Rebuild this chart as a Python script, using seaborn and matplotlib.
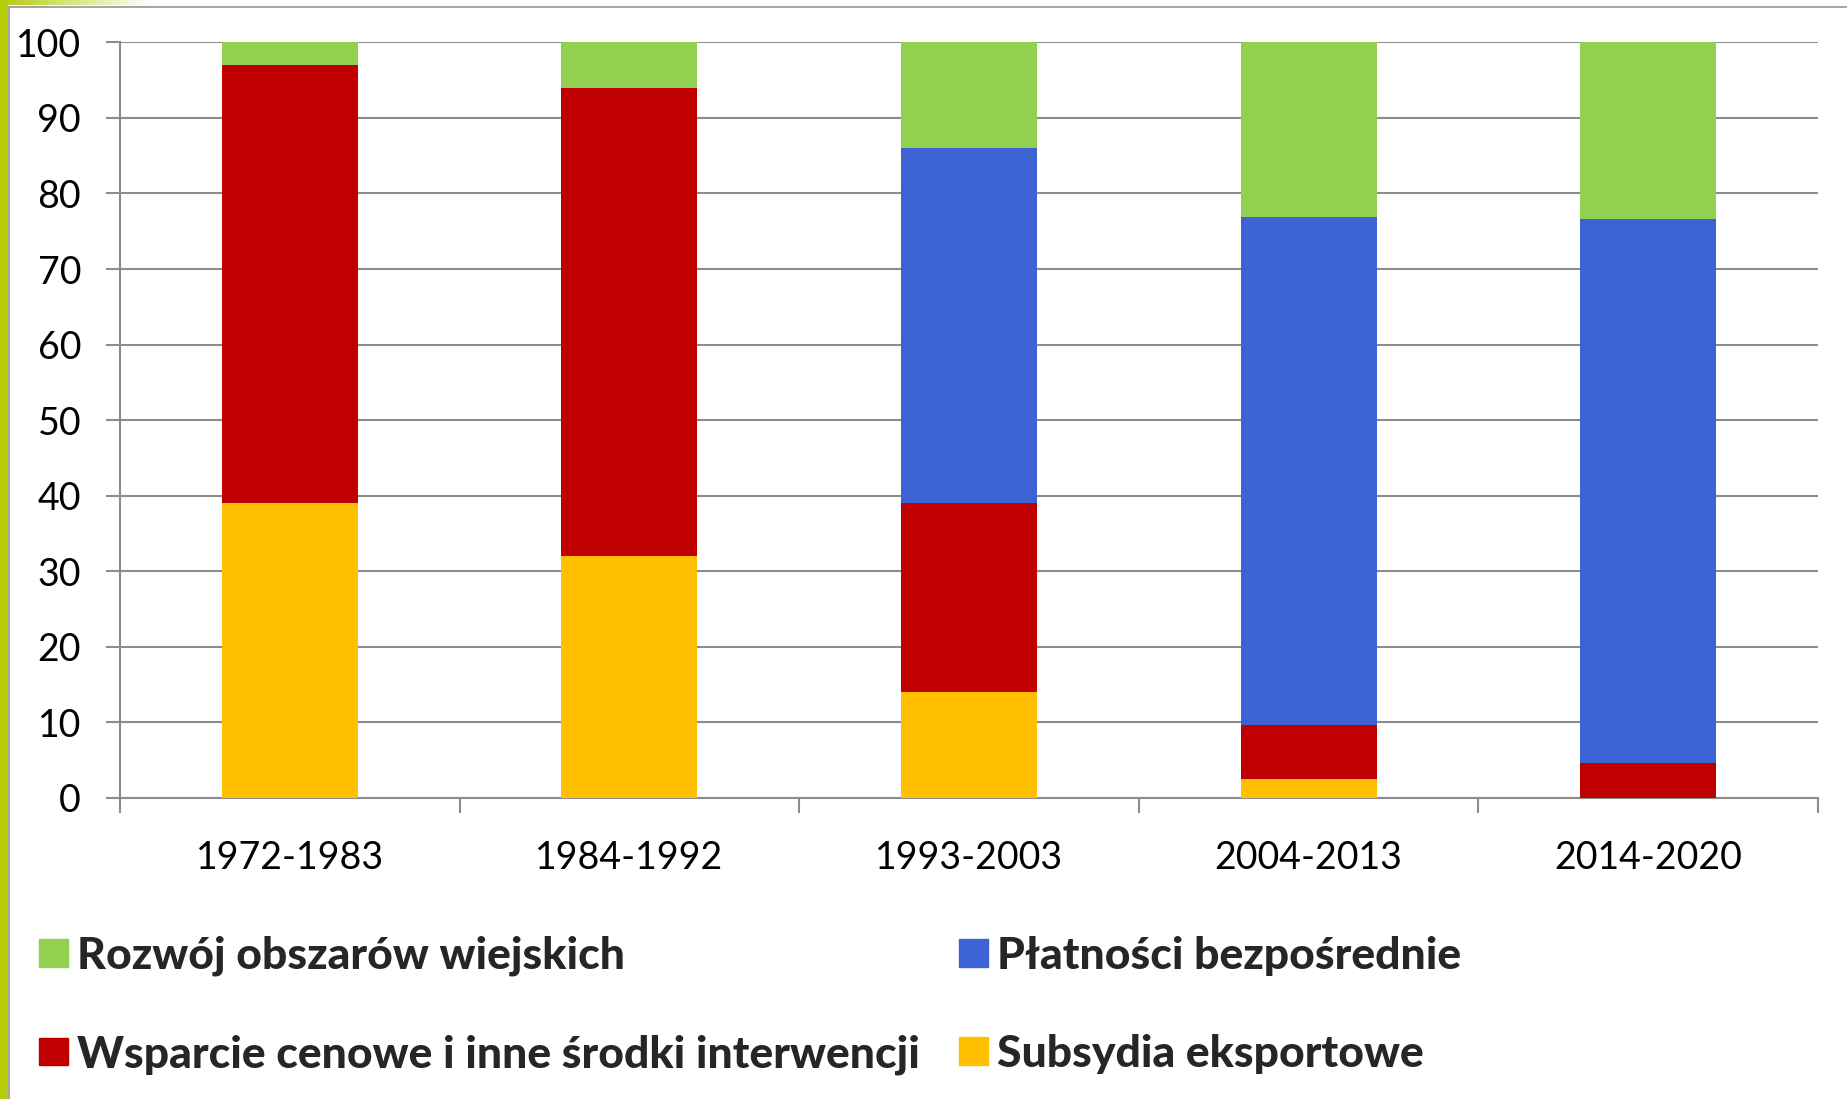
import numpy as np
import matplotlib
matplotlib.use("Agg")
import matplotlib.pyplot as plt
from matplotlib.patches import Patch, Rectangle
from matplotlib.lines import Line2D
from matplotlib.colors import LinearSegmentedColormap
import seaborn as sns

periods = ["1972-1983", "1984-1992", "1993-2003", "2004-2013", "2014-2020"]
subsydia = [39, 32, 14, 2.5, 0]
wsparcie = [58, 62, 25, 7.2, 4.6]
platnosci = [0, 0, 47, 67.2, 72]
rozwoj = [3, 6, 14, 23.1, 23.4]
yticks = [0, 10, 20, 30, 40, 50, 60, 70, 80, 90, 100]

labels = {
    "rozwoj": "Rozwój obszarów wiejskich",
    "platnosci": "Płatności bezpośrednie",
    "wsparcie": "Wsparcie cenowe i inne środki interwencji",
    "subsydia": "Subsydia eksportowe",
}
colors = {"rozwoj": "#92D050", "platnosci": "#3C62D4",
          "wsparcie": "#C00000", "subsydia": "#FFC000"}

sns.set_theme(style="white")
plt.rcParams["font.family"] = ["Lato", "DejaVu Sans"]

W, H = 1847, 1099
fig = plt.figure(figsize=(W / 100, H / 100), dpi=100)

# decorative frame
bg = fig.add_axes([0, 0, 1, 1], zorder=-10)
bg.set_xlim(0, W)
bg.set_ylim(H, 0)
bg.axis("off")
grad = np.linspace(0, 1, 256).reshape(1, -1)
cm = LinearSegmentedColormap.from_list("g", ["#B5CC0A", "#FFFFFF"])
bg.imshow(grad, cmap=cm, extent=[0, 150, 5, 0], aspect="auto")
bg.add_patch(Rectangle((0, 0), 8, H, color="#B5CC0A", lw=0))
bg.add_line(Line2D([9, 9], [7, H], color="#A6A6A6", lw=1.5))
bg.add_line(Line2D([9, W], [7, 7], color="#A6A6A6", lw=1.5))

ax = fig.add_axes([120 / W, 1 - 798 / H, (1818 - 120) / W, (798 - 42.3) / H])

bottom = np.zeros(len(periods))
for key, vals in [("subsydia", subsydia), ("wsparcie", wsparcie),
                  ("platnosci", platnosci), ("rozwoj", rozwoj)]:
    sns.barplot(x=periods, y=vals, bottom=bottom, color=colors[key],
                saturation=1, width=0.4, ax=ax, zorder=3, linewidth=0)
    bottom = bottom + np.array(vals)

ax.set_xlim(-0.5, len(periods) - 0.5)
ax.set_ylim(0, 100)
ax.set_yticks(yticks)
ax.grid(axis="y", color="#8C8C8C", lw=1.5, zorder=0)
ax.grid(axis="x", visible=False)
for s in ["top", "right"]:
    ax.spines[s].set_visible(False)
for s in ["left", "bottom"]:
    ax.spines[s].set_color("#8C8C8C")
    ax.spines[s].set_linewidth(1.5)
ax.set_xticks(np.arange(-0.5, len(periods)), minor=True)
ax.tick_params(axis="x", which="minor", length=11, width=1.5, color="#8C8C8C", direction="out", bottom=True)
ax.tick_params(axis="x", which="major", length=0, pad=30, labelsize=27, labelcolor="black")
ax.tick_params(axis="y", which="major", length=10, width=1.5, color="#8C8C8C", direction="out", left=True, pad=18, labelsize=27, labelcolor="black")
ax.set_xlabel("")
ax.set_ylabel("")

handles = [Patch(color=colors[k], label=labels[k]) for k in ["rozwoj", "wsparcie", "platnosci", "subsydia"]]
fig.legend(handles=handles, ncol=2, loc="upper left", bbox_to_anchor=(21 / W, 1 - 918 / H),
           frameon=False, prop={"weight": "black", "size": 32},
           handlelength=0.65, handleheight=0.57, handletextpad=0.2,
           columnspacing=0.9, labelspacing=1.3, borderaxespad=0)

fig.savefig("out.png", dpi=100, facecolor="white")
